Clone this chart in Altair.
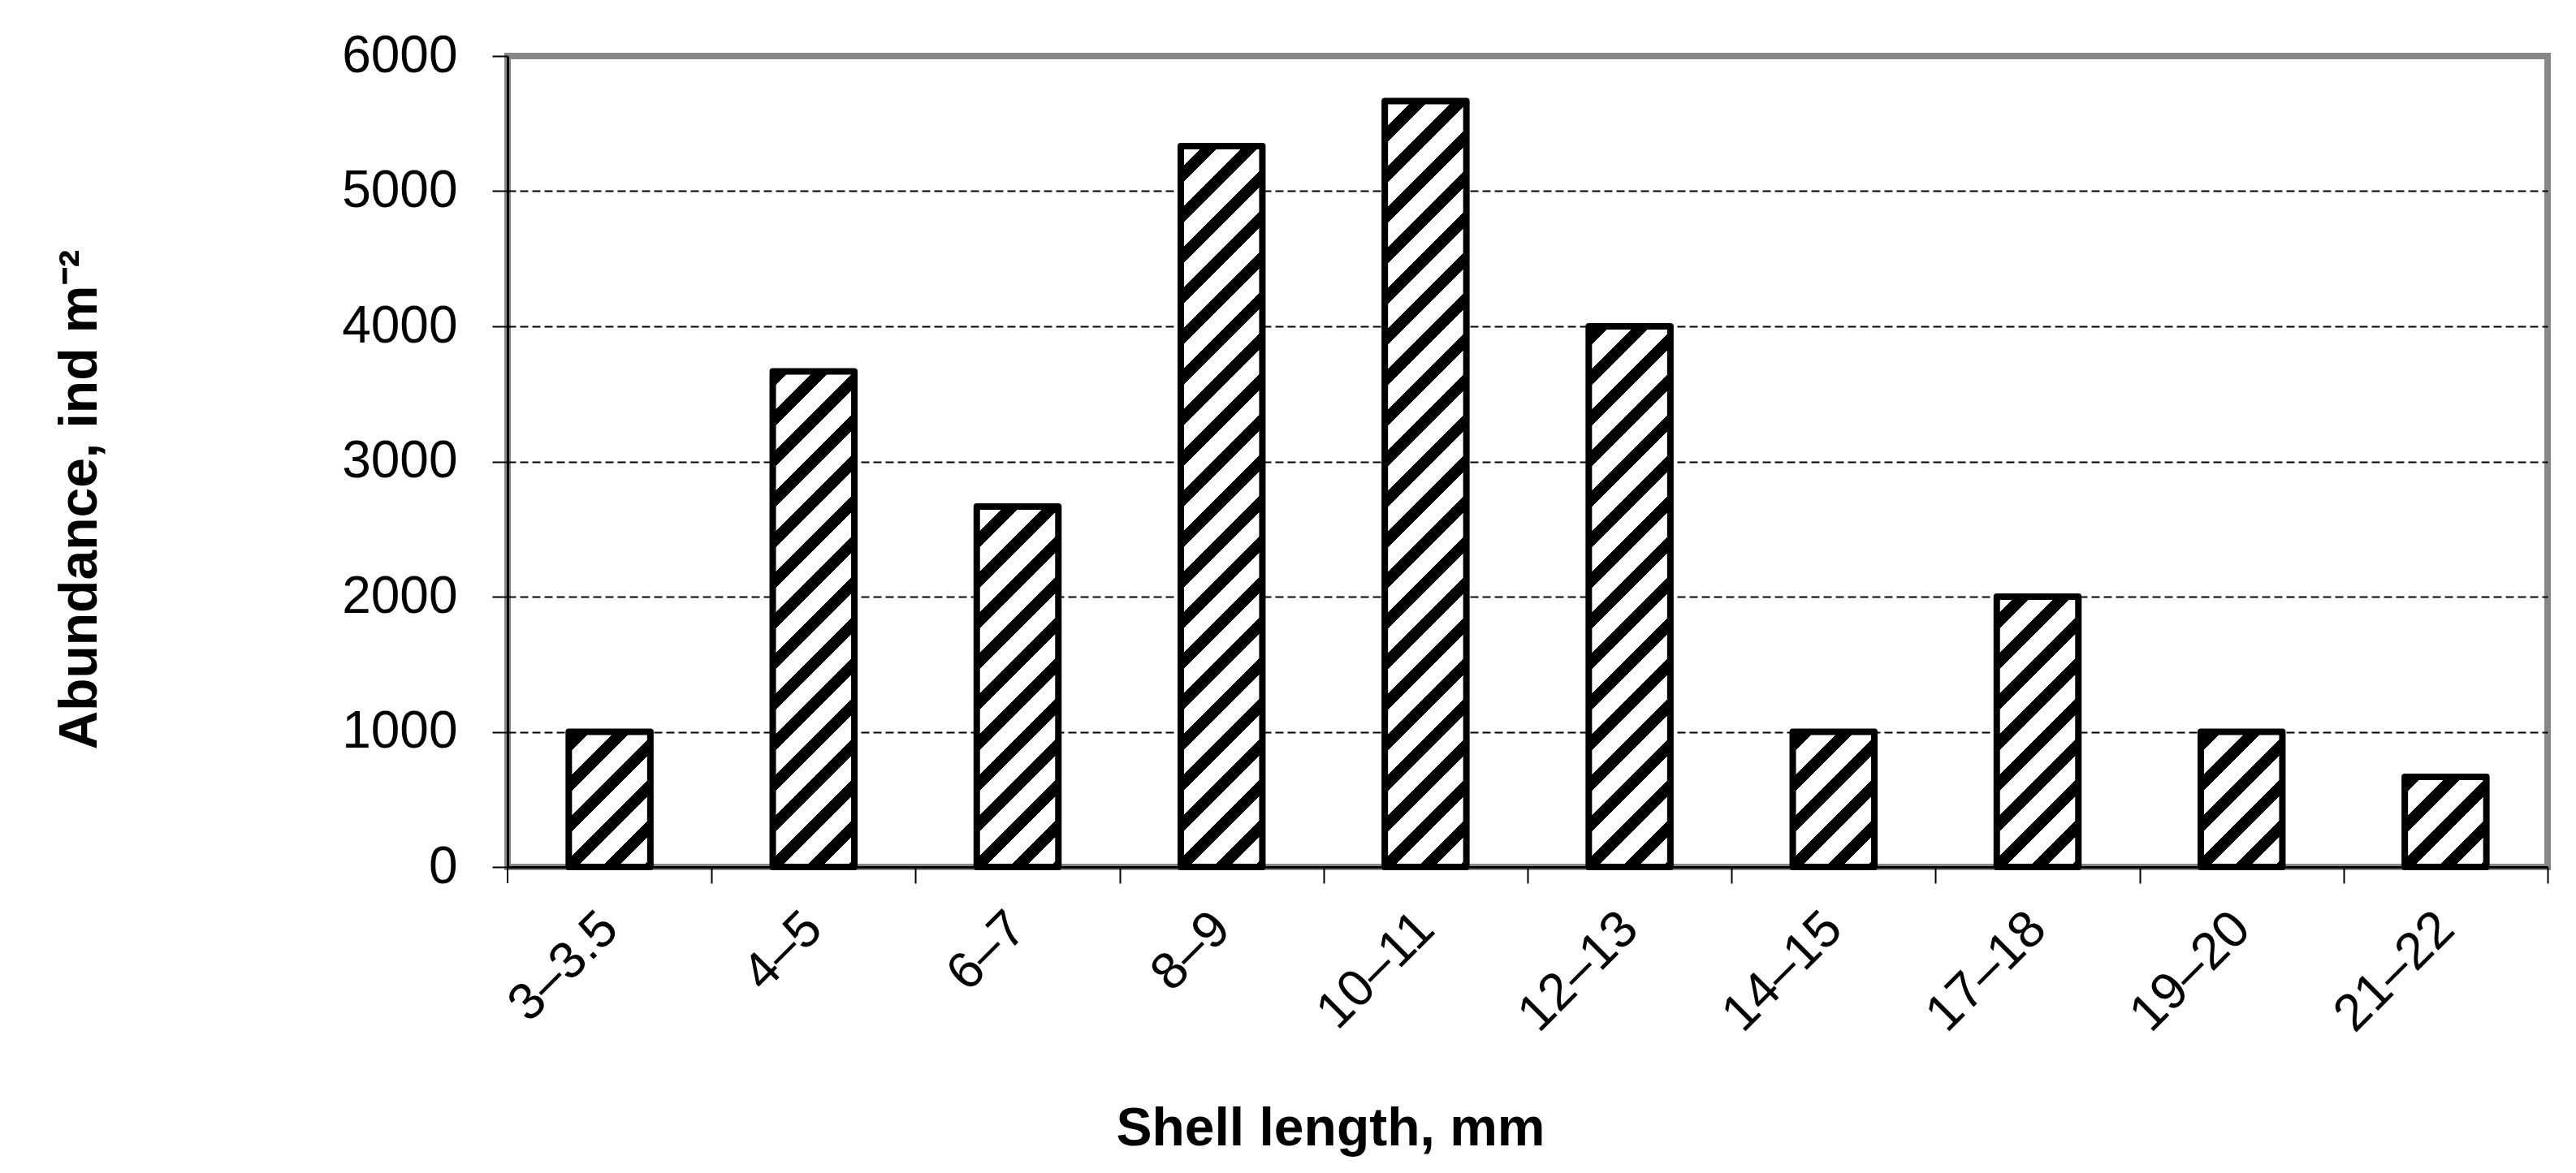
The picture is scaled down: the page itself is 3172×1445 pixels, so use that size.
import math
import altair as alt
import pandas as pd

# ---- data ----
length_classes = ["3–3.5", "4–5", "6–7", "8–9", "10–11", "12–13", "14–15", "17–18", "19–20", "21–22"]
abundance = [1000, 3667, 2667, 5333, 5667, 4000, 1000, 2000, 1000, 667]
y_tick_values = [0, 1000, 2000, 3000, 4000, 5000, 6000]

# ---- layout / style ----
W, H = 2512, 999
Y_MAX = 6000
PAD_INNER, PAD_OUTER = 0.6, 0.3
FONT = "Liberation Sans"

df = pd.DataFrame({"cls": length_classes, "abundance": abundance})

step = W / (len(length_classes) - PAD_INNER + 2 * PAD_OUTER)
bar_w = step * (1 - PAD_INNER)
half_gap = step * PAD_INNER / 2  # distance from bar edge to category boundary


def hatch(h, w=bar_w, period=50.0, half=10.0):
    """45-degree black/white stripe gradient for a bar of pixel size w x h."""
    total = w + h
    intervals = []
    kmin = math.floor((-h - half) / period) - 1
    kmax = math.ceil((total - h + half) / period) + 1
    for k in range(kmin, kmax + 1):
        c = h + k * period
        a, b = max(0.0, c - half), min(total, c + half)
        if b > a:
            intervals.append((a, b))
    intervals.sort()
    stops = []
    for a, b in intervals:
        oa, ob = a / total, b / total
        stops += [
            {"offset": oa, "color": "white"},
            {"offset": oa, "color": "black"},
            {"offset": ob, "color": "black"},
            {"offset": ob, "color": "white"},
        ]
    if not stops:
        stops = [{"offset": 0, "color": "white"}, {"offset": 1, "color": "white"}]
    k = (1 / h + 1 / w) / (1 / h ** 2 + 1 / w ** 2)
    return {"gradient": "linear", "x1": 0, "y1": 0, "x2": k / h, "y2": k / w, "stops": stops}


x_enc = alt.X(
    "cls:N",
    sort=length_classes,
    scale=alt.Scale(domain=length_classes, paddingInner=PAD_INNER, paddingOuter=PAD_OUTER),
    axis=alt.Axis(
        title="Shell length, mm",
        titleFont=FONT, titleFontSize=66, titleFontWeight="bold", titleColor="black",
        titleX=1013, titleY=322, titleAlign="center", titleBaseline="middle",
        labelAngle=315, labelAlign="right", labelBaseline="middle",
        labelFont=FONT, labelFontSize=64, labelColor="black", labelPadding=46,
        bandPosition=1, tickOffset=half_gap, labelOffset=-half_gap,
        tickColor="black", tickWidth=2, tickSize=20,
        domainColor="black", domainWidth=3, grid=False, labelOverlap=False,
    ),
)
y_enc = alt.Y(
    "abundance:Q",
    scale=alt.Scale(domain=[0, Y_MAX], nice=False),
    axis=alt.Axis(
        values=y_tick_values, format="d",
        title="Abundance, ind m⁻²",
        titleFont=FONT, titleFontSize=66, titleFontWeight="bold", titleColor="black",
        titleAngle=270, titleX=-527, titleY=546, titleAlign="center", titleBaseline="middle",
        labelFont=FONT, labelFontSize=64, labelColor="black", labelPadding=43,
        tickColor="black", tickWidth=2, tickSize=19,
        domainColor="black", domainWidth=3,
        grid=True, gridColor="black", gridDash=[10, 5], gridWidth=2,
        gridOpacity={"condition": {"test": "datum.value === 0 || datum.value === 6000", "value": 0}, "value": 1},
    ),
)

layers = []
for cls, val in zip(length_classes, abundance):
    h = val / Y_MAX * H
    layers.append(
        alt.Chart(df)
        .transform_filter(alt.datum.cls == cls)
        .mark_bar(stroke="black", strokeWidth=8, strokeJoin="round")
        .encode(x=x_enc, y=y_enc, fill=alt.value(hatch(h)))
    )

# the category-axis tick at the left edge of the plot (axis decoration)
left_tick = (
    alt.Chart(pd.DataFrame({"edge": [0]}))
    .mark_rule(color="black", strokeWidth=2)
    .encode(x=alt.value(0), y=alt.value(H), y2=alt.value(H + 20))
)

chart = (
    alt.layer(*layers, left_tick)
    .properties(
        width=W, height=H,
        autosize=alt.AutoSizeParams(type="none"),
        padding={"left": 617, "top": 61, "right": 20, "bottom": 360},
        background="white",
    )
    .configure_view(stroke="#878787", strokeWidth=8)
)

chart.save("out.html", embed_options={"renderer": "svg", "actions": False})
